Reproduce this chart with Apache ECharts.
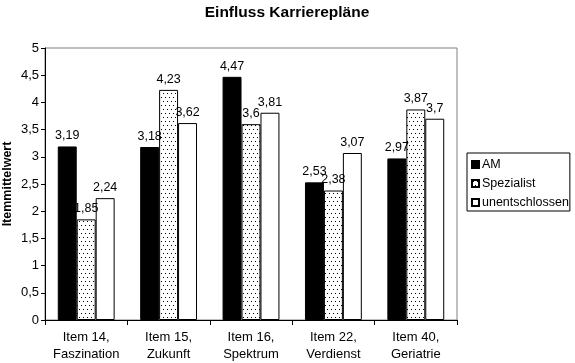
<!DOCTYPE html>
<html><head><meta charset="utf-8">
<script src="https://cdn.jsdelivr.net/npm/echarts@6/dist/echarts.min.js"></script>
<style>html,body{margin:0;padding:0;background:#fff}#c{width:575px;height:363px}</style>
</head><body><div id="c"></div>
<script>
var categories = ["Item 14,\nFaszination", "Item 15,\nZukunft", "Item 16,\nSpektrum", "Item 22,\nVerdienst", "Item 40,\nGeriatrie"];
var seriesNames = ["AM", "Spezialist", "unentschlossen"];
var amValues = [3.19, 3.18, 4.47, 2.53, 2.97];
var spezialistValues = [1.85, 4.23, 3.6, 2.38, 3.87];
var unentschlossenValues = [2.24, 3.62, 3.81, 3.07, 3.7];
var yTicks = [0, 0.5, 1, 1.5, 2, 2.5, 3, 3.5, 4, 4.5, 5];

var pc = document.createElement('canvas');
pc.width = 4; pc.height = 8;
var ctx = pc.getContext('2d');
ctx.fillStyle = '#fff'; ctx.fillRect(0,0,4,8);
ctx.fillStyle = '#000'; ctx.fillRect(1,1,1,1); ctx.fillRect(3,5,1,1);
var pattern = {image: pc, repeat: 'repeat'};

var fontFam = 'Liberation Sans, Arial, sans-serif';
function fmt(v){ return String(v).replace('.', ','); }
var labelCfg = {show: true, position: 'top', distance: 4, color: '#000', fontSize: 12.5, fontFamily: fontFam, formatter: function(p){ return fmt(p.value); }};

var chart = echarts.init(document.getElementById('c'), null, {renderer: 'canvas'});
chart.setOption({
  animation: false,
  backgroundColor: '#fff',
  title: {text: 'Einfluss Karrierepläne', left: 282, textAlign: 'center', top: 0,
    textStyle: {fontSize: 15.5, fontWeight: 'bold', fontFamily: fontFam, color: '#000'}},
  grid: {left: 45, right: 118, top: 48, bottom: 43, show: true, borderColor: '#808080', borderWidth: 1,
    containLabel: false, outerBoundsMode: 'none'},
  legend: {orient: 'vertical', left: 467, top: 153, itemWidth: 7, itemHeight: 7, itemGap: 6,
    padding: [5, 1, 2, 4], borderColor: '#000', borderWidth: 1, icon: 'rect',
    textStyle: {fontSize: 12.5, fontFamily: fontFam, color: '#000', padding: [0,0,0,-2]},
    data: seriesNames},
  xAxis: {type: 'category', data: categories,
    axisLine: {lineStyle: {color: '#000'}},
    axisTick: {show: true, length: 5, lineStyle: {color: '#000'}},
    axisLabel: {interval: 0, fontSize: 13, fontFamily: fontFam, color: '#000', margin: 9, lineHeight: 17}},
  yAxis: {type: 'value', min: yTicks[0], max: yTicks[yTicks.length-1], interval: 0.5,
    name: 'Itemmittelwert', nameLocation: 'middle', nameGap: 31, nameMoveOverlap: false,
    nameTextStyle: {fontSize: 12.5, fontWeight: 'bold', fontFamily: fontFam, color: '#000'},
    axisLine: {show: true, lineStyle: {color: '#000'}},
    axisTick: {show: true, length: 4, lineStyle: {color: '#000'}},
    splitLine: {show: false},
    axisLabel: {fontSize: 13, fontFamily: fontFam, color: '#000', margin: 6, formatter: function(v){ return fmt(v); }}},
  series: [
    {name: seriesNames[0], type: 'bar', data: amValues, barCategoryGap: '31%', barGap: '0%',
     itemStyle: {color: '#000', borderColor: '#000', borderWidth: 1}, label: labelCfg},
    {name: seriesNames[1], type: 'bar', data: spezialistValues, barGap: '0%',
     itemStyle: {color: pattern, borderColor: '#000', borderWidth: 1}, label: labelCfg},
    {name: seriesNames[2], type: 'bar', data: unentschlossenValues, barGap: '0%',
     itemStyle: {color: '#fff', borderColor: '#000', borderWidth: 1}, label: labelCfg}
  ]
});
</script></body></html>
